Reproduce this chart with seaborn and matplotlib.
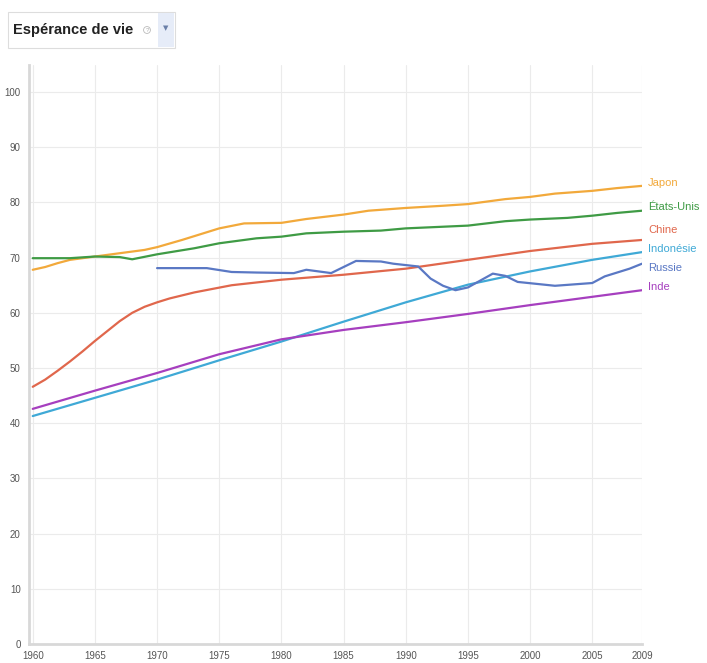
import matplotlib.pyplot as plt
import matplotlib.patches as mpatches
import seaborn as sns
import pandas as pd

# valeurs (espérance de vie à la naissance)
years_japon = [1960, 1961, 1962, 1963, 1965, 1967, 1969, 1970, 1972, 1975, 1977, 1980, 1982,
               1985, 1987, 1990, 1993, 1995, 1998, 2000, 2002, 2005, 2007, 2009]
japon = [67.8, 68.3, 69.0, 69.6, 70.2, 70.8, 71.4, 71.9, 73.2, 75.3, 76.2, 76.3, 77.0,
         77.8, 78.5, 79.0, 79.4, 79.7, 80.6, 81.0, 81.6, 82.1, 82.6, 83.0]

years_usa = [1960, 1963, 1965, 1967, 1968, 1970, 1973, 1975, 1978, 1980, 1982, 1985, 1988,
             1990, 1993, 1995, 1998, 2000, 2003, 2005, 2007, 2009]
usa = [69.9, 69.9, 70.2, 70.1, 69.7, 70.6, 71.7, 72.6, 73.5, 73.8, 74.4, 74.7, 74.9,
       75.3, 75.6, 75.8, 76.6, 76.9, 77.2, 77.6, 78.1, 78.5]

years_chine = [1960, 1961, 1962, 1963, 1964, 1965, 1966, 1967, 1968, 1969, 1970, 1971, 1973,
               1976, 1980, 1985, 1990, 1995, 2000, 2005, 2009]
chine = [46.6, 47.9, 49.5, 51.2, 53.0, 54.9, 56.7, 58.5, 60.0, 61.1, 61.9, 62.6, 63.7,
         65.0, 66.0, 66.9, 68.0, 69.6, 71.2, 72.5, 73.2]

years_indonesie = [1960, 1965, 1970, 1975, 1980, 1985, 1990, 1995, 2000, 2005, 2009]
indonesie = [41.3, 44.6, 47.9, 51.4, 54.8, 58.4, 61.9, 65.1, 67.5, 69.6, 71.0]

years_russie = [1970, 1974, 1976, 1978, 1981, 1982, 1984, 1986, 1988, 1989, 1991, 1992, 1993,
                1994, 1995, 1997, 1998, 1999, 2002, 2005, 2006, 2008, 2009]
russie = [68.1, 68.1, 67.4, 67.3, 67.2, 67.8, 67.2, 69.4, 69.3, 68.9, 68.4, 66.2, 64.9,
          64.1, 64.6, 67.1, 66.7, 65.6, 64.9, 65.4, 66.6, 68.0, 68.9]

years_inde = [1960, 1965, 1970, 1975, 1980, 1985, 1990, 1995, 2000, 2005, 2009]
inde = [42.6, 45.9, 49.1, 52.5, 55.2, 56.9, 58.3, 59.8, 61.4, 62.9, 64.1]

pays = ["Japon", "États-Unis", "Chine", "Indonésie", "Russie", "Inde"]
couleurs = ["#f2a93b", "#3f9b45", "#e0674c", "#3fa9d6", "#5a78c4", "#a63fbf"]
label_y = [83.5, 79.2, 75.0, 71.6, 68.1, 64.7]

series = [(years_japon, japon), (years_usa, usa), (years_chine, chine),
          (years_indonesie, indonesie), (years_russie, russie), (years_inde, inde)]
frames = []
for nom, (ans, vals) in zip(pays, series):
    frames.append(pd.DataFrame({"annee": ans, "valeur": vals, "pays": nom}))
df = pd.concat(frames, ignore_index=True)

sns.set_style("white")
narrow = ["Liberation Sans Narrow", "Liberation Sans", "DejaVu Sans"]
plt.rcParams["font.family"] = narrow

fig = plt.figure(figsize=(7.07, 6.63), dpi=100)
ax = fig.add_axes([29 / 707, 19 / 663, 613 / 707, 579 / 663])

sns.lineplot(data=df, x="annee", y="valeur", hue="pays", palette=dict(zip(pays, couleurs)),
             hue_order=pays, linewidth=1.6, legend=False, ax=ax)

ax.set_xlim(1959.7, 2009)
ax.set_ylim(0, 104.9)
xt = [1960, 1965, 1970, 1975, 1980, 1985, 1990, 1995, 2000, 2005, 2009]
ax.set_xticks(xt)
ax.set_xticklabels([str(a) for a in xt])
ax.set_yticks(range(0, 101, 10))
ax.tick_params(axis="both", labelsize=7, colors="#555555", length=3, width=0.6, pad=2)
ax.tick_params(axis="y", pad=3)
ax.grid(True, color="#ebebeb", linewidth=0.8)
ax.set_xlabel("")
ax.set_ylabel("")
for s in ["top", "right"]:
    ax.spines[s].set_visible(False)
for s in ["left", "bottom"]:
    ax.spines[s].set_color("#d8d8d8")
    ax.spines[s].set_linewidth(2)

for nom, c, yv in zip(pays, couleurs, label_y):
    ax.text(2009.5, yv, nom, color=c, fontsize=8, va="center", ha="left", clip_on=False)

# titre dans une boîte, comme un menu déroulant
fig.patches.append(mpatches.Rectangle((8 / 707, 1 - 48 / 663), 167 / 707, 36 / 663,
                                      transform=fig.transFigure, facecolor="white",
                                      edgecolor="#dddddd", linewidth=0.8))
fig.patches.append(mpatches.Rectangle((158 / 707, 1 - 47 / 663), 16 / 707, 34 / 663,
                                      transform=fig.transFigure, facecolor="#e6ecf8",
                                      edgecolor="none"))
fig.text(13 / 707, 1 - 30 / 663, "Espérance de vie", fontsize=10.5, fontweight="bold",
         color="#222222", va="center", ha="left")
fig.text(147 / 707, 1 - 30 / 663, "?", fontsize=4.5, color="#aaaaaa", va="center", ha="center",
         bbox=dict(boxstyle="circle,pad=0.15", fc="white", ec="#bbbbbb", lw=0.6))
fig.text(166 / 707, 1 - 28 / 663, "▼", fontsize=5, color="#6a7fa8", va="center", ha="center",
         family=["DejaVu Sans"])

fig.savefig("out.png", dpi=100)
